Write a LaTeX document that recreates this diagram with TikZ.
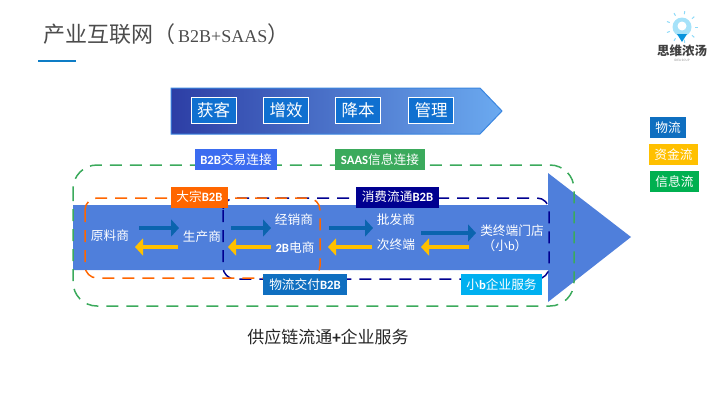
\documentclass[tikz,border=0pt]{standalone}
\usepackage{fontspec}
\setmainfont{Noto Sans CJK SC}
\newfontfamily\latinserif{Liberation Serif}
\newfontfamily\latinsans{Carlito}
\usetikzlibrary{arrows.meta}
\definecolor{bodyblue}{HTML}{4F7FDB}
\definecolor{logisblue}{HTML}{0F6FC0}
\definecolor{stageblue}{HTML}{1070D0}
\definecolor{darkflow}{HTML}{0B64AE}
\definecolor{cashyellow}{HTML}{FFC000}
\definecolor{infogreen}{HTML}{00B050}
\definecolor{ringgreen}{HTML}{3BAA5C}
\definecolor{bulkorange}{HTML}{FF6600}
\definecolor{navyline}{HTML}{000090}
\definecolor{dealblue}{HTML}{3B6CF0}
\definecolor{skyblue}{HTML}{00B0F0}
\definecolor{gradleft}{HTML}{2D3EA5}
\definecolor{gradmid}{HTML}{4F7FD4}
\definecolor{gradright}{HTML}{6BAAF0}
\definecolor{gradline}{HTML}{3A86E0}
\tikzset{
  stagebox/.style={draw=white, line width=0.7pt, fill=stageblue, text=white, font=\fontsize{16.5}{17}\selectfont, minimum width=45pt, minimum height=26pt, inner sep=0pt},
  tagbox/.style={text=white, font=\fontsize{12.7}{13}\selectfont, minimum height=21pt, inner sep=0pt},
  flowtext/.style={text=white, font=\fontsize{12.7}{13}\selectfont, inner sep=0pt},
  goods/.style={draw=darkflow, line width=4.5pt, -{Triangle[length=8pt,width=17pt,fill=darkflow]}},
  cash/.style={draw=cashyellow, line width=4.5pt, -{Triangle[length=8pt,width=17pt,fill=cashyellow]}},
  ring/.style={rounded corners=24pt, line width=1.5pt, dash pattern=on 12pt off 8pt}
}
\begin{document}
\begin{tikzpicture}[x=1pt, y=-1pt]
    \useasboundingbox (0,0) rectangle (720,405);
    % Title
    \node[text=black!70, anchor=west, inner sep=0pt, font=\fontsize{22}{22}\selectfont] (title) at (43,34) {产业互联网（\kern3pt{\latinserif\fontsize{18}{18}\selectfont B2B+SAAS}）};
    \draw[logisblue!90!cyan, line width=1.5pt] (38,61) -- (76,61);

    % Logo
    \fill[cyan!35] (682,27) circle (9.5);
    \fill[cyan!80!blue] (677,34) -- (687,34) -- (682,42) -- cycle;
    \fill[white] (682,26) circle (4.5);
    \foreach \a in {0,40,...,320}
      \draw[cyan!45, line width=1pt] (682,27) ++(\a:13) -- ++(\a:3);
    \node[text=black!75, font=\bfseries\fontsize{12.5}{13}\selectfont, inner sep=0pt] (logo) at (682,51) {思维浓汤};
    \node[text=black!45, font=\fontsize{3}{3}\selectfont, inner sep=0pt] (logosub) at (682,60) {IDEA SOUP};

    % Top arrow
    \draw[draw=gradline, line width=1pt, left color=gradleft, middle color=gradmid, right color=gradright]
      (171,88) -- (480,88) -- (502,111) -- (480,134) -- (171,134) -- cycle;
    \node[stagebox] (gain) at (213.5,110) {获客};
    \node[stagebox] (effect) at (286,110) {增效};
    \node[stagebox] (cost) at (358,110) {降本};
    \node[stagebox] (manage) at (431,110) {管理};

    % Big arrow
    \fill[bodyblue] (73,205) -- (548,205) -- (548,173) -- (631,237) -- (548,302) -- (548,270) -- (73,270) -- cycle;

    % Dashed rings
    \draw[ring, draw=ringgreen] (73,165) rectangle (574,306);
    \draw[ring, rounded corners=12pt, draw=navyline] (223,198) rectangle (549,279);
    \draw[ring, rounded corners=12pt, draw=bulkorange] (85,198) rectangle (320,278);

    % Flow labels
    \node[flowtext] (raw) at (110,236) {原料商};
    \node[flowtext] (maker) at (202,236.5) {生产商};
    \node[flowtext] (dealer) at (294,220) {经销商};
    \node[flowtext] (ecom) at (295,248) {{\latinsans\bfseries 2B}电商};
    \node[flowtext] (whole) at (396,220) {批发商};
    \node[flowtext] (subend) at (396,245) {次终端};
    \node[flowtext] (store) at (512,231) {类终端门店};
    \node[flowtext] (smallb) at (505,246) {（小{\latinsans b}）};

    % Flow end points
    \coordinate (g1a) at (139,228); \coordinate (g1b) at (179,228);
    \coordinate (g2a) at (231,228); \coordinate (g2b) at (271,228);
    \coordinate (g3a) at (329,228); \coordinate (g3b) at (373,228);
    \coordinate (g4a) at (421,233); \coordinate (g4b) at (476,233);
    \coordinate (c1a) at (178,247); \coordinate (c1b) at (135,247);
    \coordinate (c2a) at (271,247); \coordinate (c2b) at (228,247);
    \coordinate (c3a) at (372,247); \coordinate (c3b) at (328,247);
    \coordinate (c4a) at (469,247); \coordinate (c4b) at (421,247);

    % Goods and cash flows
    \draw[goods] (g1a) -- (g1b);
    \draw[goods] (g2a) -- (g2b);
    \draw[goods] (g3a) -- (g3b);
    \draw[goods] (g4a) -- (g4b);
    \draw[cash] (c1a) -- (c1b);
    \draw[cash] (c2a) -- (c2b);
    \draw[cash] (c3a) -- (c3b);
    \draw[cash] (c4a) -- (c4b);

    % Tags
    \node[tagbox, fill=dealblue, minimum width=82pt] (deal) at (236,159.5) {{\latinsans\bfseries B2B}交易连接};
    \node[tagbox, fill=ringgreen, minimum width=90pt] (saas) at (380,159.5) {{\latinsans\bfseries SAAS}信息连接};
    \node[tagbox, fill=bulkorange, minimum width=57pt] (bulk) at (199.5,197) {大宗{\latinsans\bfseries B2B}};
    \node[tagbox, fill=navyline, minimum width=83pt] (retail) at (397.5,197) {消费流通{\latinsans\bfseries B2B}};
    \node[tagbox, fill=logisblue, minimum width=84pt] (deliver) at (305,284.5) {物流交付{\latinsans\bfseries B2B}};
    \node[tagbox, fill=skyblue, minimum width=81pt] (service) at (501.5,284.5) {小{\latinsans\bfseries b}企业服务};

    % Caption
    \node[text=black!85, font=\fontsize{17}{17}\selectfont, inner sep=0pt] (caption) at (328,337) {供应链流通{\latinsans\bfseries +}企业服务};

    % Legend
    \node[tagbox, fill=logisblue, minimum width=36pt] (leglogis) at (668,127.5) {物流};
    \node[tagbox, fill=cashyellow, minimum width=49pt] (legcash) at (673.5,154.5) {资金流};
    \node[tagbox, fill=infogreen, minimum width=49pt] (leginfo) at (674.5,181.5) {信息流};
\end{tikzpicture}
\end{document}
